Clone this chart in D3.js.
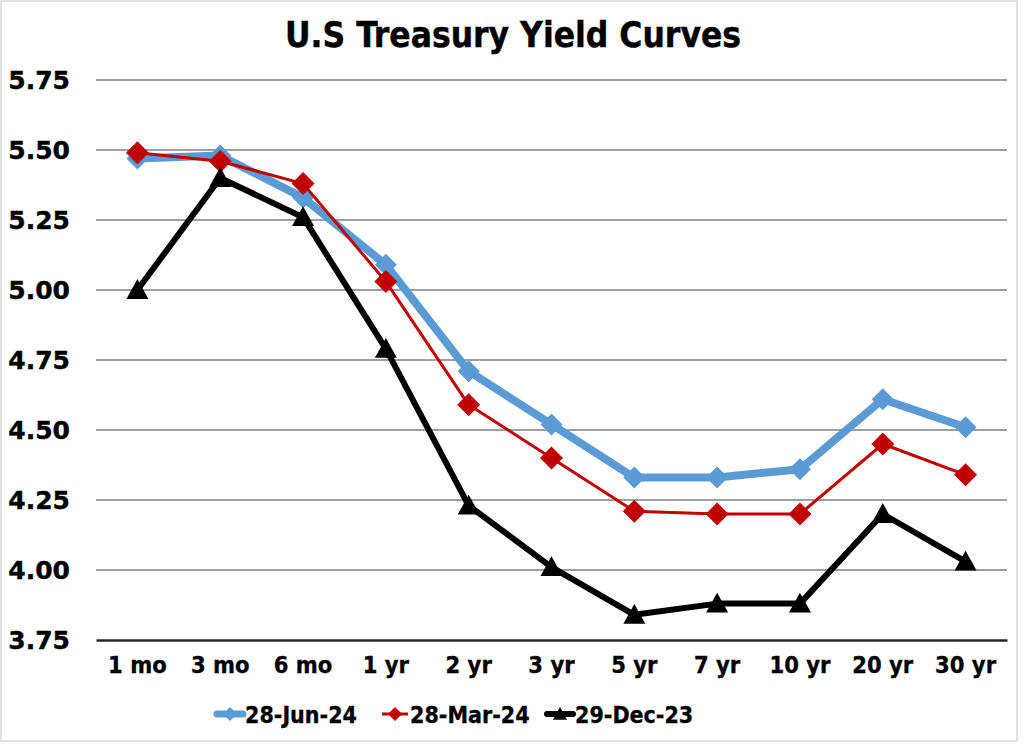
<!DOCTYPE html>
<html>
<head>
<meta charset="utf-8">
<script src="https://cdn.jsdelivr.net/npm/d3@7"></script>
<style>
  body { margin: 0; background: #fff; }
  svg { display: block; }
</style>
</head>
<body>
<svg width="1024" height="744"></svg>
<script>
var maturities = ["1 mo", "3 mo", "6 mo", "1 yr", "2 yr", "3 yr", "5 yr", "7 yr", "10 yr", "20 yr", "30 yr"];
var jun24 = [5.47, 5.48, 5.33, 5.09, 4.71, 4.52, 4.33, 4.33, 4.36, 4.61, 4.51];
var mar24 = [5.49, 5.46, 5.38, 5.03, 4.59, 4.40, 4.21, 4.20, 4.20, 4.45, 4.34];
var dec23 = [5.00, 5.40, 5.26, 4.79, 4.23, 4.01, 3.84, 3.88, 3.88, 4.20, 4.03];
var yTicks = [3.75, 4.00, 4.25, 4.50, 4.75, 5.00, 5.25, 5.50, 5.75];

var series = [
    {name: "28-Jun-24", values: jun24, color: "#5B9BD5", width: 8, marker: "diamond", size: 22},
    {name: "28-Mar-24", values: mar24, color: "#C00000", width: 3, marker: "diamond", size: 23},
    {name: "29-Dec-23", values: dec23, color: "#000000", width: 6, marker: "triangle", size: 22}
];

var svg = d3.select("svg"),
    width = +svg.attr("width"),
    height = +svg.attr("height");

var margin = {left: 96, right: 1007, top: 80, bottom: 640};

// outer frame
svg.append("rect")
    .attr("x", 1).attr("y", 1)
    .attr("width", 1016).attr("height", 740)
    .attr("fill", "#fff")
    .attr("stroke", "#d9d9d9")
    .attr("stroke-width", 1.5);

var x = d3.scaleBand()
    .domain(maturities)
    .range([margin.left, margin.right]);

var y = d3.scaleLinear()
    .domain([3.75, 5.75])
    .range([margin.bottom, margin.top]);

// gridlines
svg.append("g")
    .selectAll("line")
    .data(yTicks.filter(function(d) { return d > 3.75; }))
    .enter().append("line")
    .attr("x1", margin.left).attr("x2", margin.right)
    .attr("y1", function(d) { return y(d); })
    .attr("y2", function(d) { return y(d); })
    .attr("stroke", "#7f7f7f")
    .attr("stroke-width", 1.5);

// y axis labels
var yAxis = svg.append("g")
    .attr("transform", "translate(" + margin.left + ",0)")
    .call(d3.axisLeft(y).tickValues(yTicks).tickFormat(d3.format(".2f")).tickSize(0).tickPadding(26));
yAxis.select(".domain").remove();
yAxis.selectAll("text")
    .attr("font-family", "DejaVu Sans")
    .attr("font-weight", "bold")
    .attr("font-size", 25)
    .attr("fill", "#000")
    .attr("stroke", "#000")
    .attr("stroke-width", 0.4);

// x axis
var xAxis = svg.append("g")
    .attr("transform", "translate(0," + margin.bottom + ")")
    .call(d3.axisBottom(x).tickSize(0).tickPadding(16));
xAxis.select(".domain")
    .attr("stroke", "#262626")
    .attr("stroke-width", 2.5);
xAxis.selectAll("text")
    .attr("font-family", "DejaVu Sans Condensed, DejaVu Sans")
    .attr("font-weight", "bold")
    .attr("font-size", 23.5)
    .attr("fill", "#000")
    .attr("stroke", "#000")
    .attr("stroke-width", 0.3);

var cx = function(i) { return x(maturities[i]) + x.bandwidth() / 2; };

var line = d3.line()
    .x(function(d, i) { return cx(i); })
    .y(function(d) { return y(d); });

function markerPath(type, s) {
    if (type == "diamond") {
        var h = s / 2;
        return "M0," + (-h) + "L" + h + ",0L0," + h + "L" + (-h) + ",0Z";
    }
    var w = s / 2, t = s * 0.9;
    return "M0," + (-t * 0.55) + "L" + w + "," + (t * 0.45) + "L" + (-w) + "," + (t * 0.45) + "Z";
}

series.forEach(function(s) {
    var g = svg.append("g");
    g.append("path")
        .attr("d", line(s.values))
        .attr("fill", "none")
        .attr("stroke", s.color)
        .attr("stroke-width", s.width)
        .attr("stroke-linejoin", "round");
    g.selectAll("path.m")
        .data(s.values)
        .enter().append("path")
        .attr("class", "m")
        .attr("transform", function(d, i) { return "translate(" + cx(i) + "," + y(d) + ")"; })
        .attr("d", markerPath(s.marker, s.size))
        .attr("fill", s.color);
});

// title
svg.append("text")
    .attr("x", 513)
    .attr("y", 47)
    .attr("text-anchor", "middle")
    .attr("font-family", "DejaVu Sans Condensed, DejaVu Sans")
    .attr("font-weight", "bold")
    .attr("font-size", 35)
    .attr("stroke", "#000")
    .attr("stroke-width", 0.4)
    .text("U.S Treasury Yield Curves");

// legend
var legendX = [215, 380, 545];
var legend = svg.append("g");
series.forEach(function(s, i) {
    var lg = legend.append("g")
        .attr("transform", "translate(" + legendX[i] + ",714)");
    lg.append("line")
        .attr("x1", 2).attr("x2", 28)
        .attr("stroke", s.color)
        .attr("stroke-width", s.width == 8 ? 7 : (s.width == 3 ? 3 : 6))
        .attr("stroke-linecap", s.width == 3 ? "butt" : "round");
    lg.append("path")
        .attr("transform", "translate(15,0)")
        .attr("d", markerPath(s.marker, 14))
        .attr("fill", s.color);
    lg.append("text")
        .attr("x", 30)
        .attr("y", 9)
        .attr("font-family", "DejaVu Sans Condensed, DejaVu Sans")
        .attr("font-weight", "bold")
        .attr("font-size", 23)
        .attr("stroke", "#000")
        .attr("stroke-width", 0.3)
        .text(s.name);
});
</script>
</body>
</html>
